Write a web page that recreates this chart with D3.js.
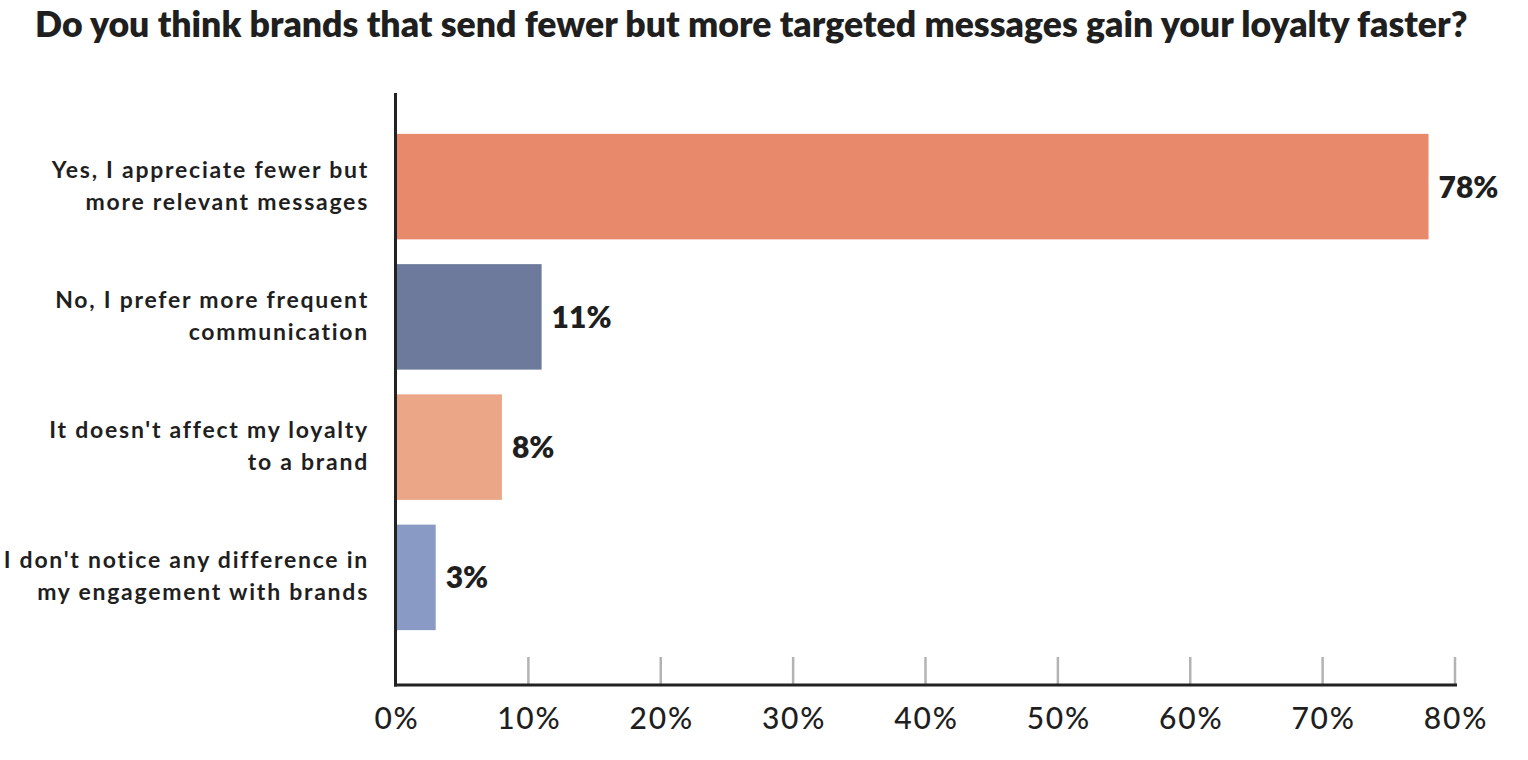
<!DOCTYPE html>
<html>
<head>
<meta charset="utf-8">
<script src="https://cdn.jsdelivr.net/npm/d3@7"></script>
<style>
  html, body { margin: 0; padding: 0; background: #fff; }
  svg { display: block; }
  text { font-family: Lato, "Noto Sans", sans-serif; fill: #1f1f1f; }
</style>
</head>
<body>
<svg id="chart" width="1528" height="760"></svg>
<script>
const title = "Do you think brands that send fewer but more targeted messages gain your loyalty faster?";
const categories = [
  ["Yes, I appreciate fewer but", "more relevant messages"],
  ["No, I prefer more frequent", "communication"],
  ["It doesn't affect my loyalty", "to a brand"],
  ["I don't notice any difference in", "my engagement with brands"]
];
const values = [78, 11, 8, 3];
const colors = ["#E8896B", "#6E7A9C", "#EBA587", "#899BC4"];
const tickValues = [0, 10, 20, 30, 40, 50, 60, 70, 80];

const svg = d3.select("#chart");

const x = d3.scaleLinear().domain([0, 80]).range([396, 1455]);
const y = d3.scaleBand().domain(d3.range(categories.length))
  .range([121.5, 642.5]).paddingInner(0.19).paddingOuter(0.095);

// Title fitted to width
const t = svg.append("text")
  .attr("x", 35).attr("y", 37)
  .attr("font-weight", 800)
  .attr("font-size", 26)
  .text(title);
const tw = t.node().getComputedTextLength();
t.attr("font-size", 26 * 1433 / tw);

// ticks (gray)
svg.append("g").selectAll("line").data(tickValues.slice(1)).join("line")
  .attr("x1", d => x(d)).attr("x2", d => x(d))
  .attr("y1", 657).attr("y2", 685)
  .attr("stroke", "#b3b3b3").attr("stroke-width", 2.5);

// bars
svg.append("g").selectAll("rect").data(values).join("rect")
  .attr("x", x(0))
  .attr("y", (d, i) => y(i))
  .attr("width", d => x(d) - x(0))
  .attr("height", y.bandwidth())
  .attr("fill", (d, i) => colors[i]);

// axes lines
svg.append("line").attr("x1", 395.5).attr("x2", 395.5).attr("y1", 93).attr("y2", 686.5)
  .attr("stroke", "#222").attr("stroke-width", 3);
svg.append("line").attr("x1", 394).attr("x2", 1457).attr("y1", 685).attr("y2", 685)
  .attr("stroke", "#222").attr("stroke-width", 3);

// tick labels
svg.append("g").selectAll("text").data(tickValues).join("text")
  .attr("x", d => x(d) + 1).attr("y", 729)
  .attr("text-anchor", "middle")
  .attr("font-size", 30).attr("font-weight", 500)
  .attr("letter-spacing", 1.8)
  .text(d => d + "%");

// value labels
svg.append("g").selectAll("text").data(values).join("text")
  .attr("x", d => x(d) + 10)
  .attr("y", (d, i) => y(i) + y.bandwidth() / 2 + 11)
  .attr("font-size", 30).attr("font-weight", 800)
  .text(d => d + "%");

// category labels
const cl = svg.append("g").selectAll("text").data(categories).join("text")
  .attr("x", 367)
  .attr("y", (d, i) => y(i) + y.bandwidth() / 2 - 9)
  .attr("text-anchor", "end")
  .attr("font-size", 23).attr("font-weight", 700)
  .attr("letter-spacing", 1.75);
cl.selectAll("tspan").data(d => d).join("tspan")
  .attr("x", 369)
  .attr("dy", (d, j) => j === 0 ? 0 : 32)
  .text(d => d);
</script>
</body>
</html>
